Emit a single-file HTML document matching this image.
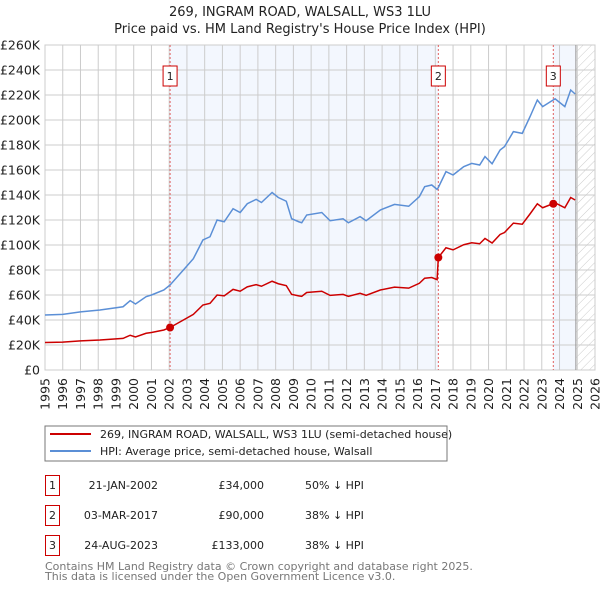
<!DOCTYPE html>
<html><head><meta charset="utf-8"><style>
body{margin:0;background:#fff;font-family:"DejaVu Sans","Liberation Sans",sans-serif;}
svg text{font-family:"DejaVu Sans","Liberation Sans",sans-serif;}
</style></head><body>
<svg id="c" width="600" height="590" xmlns="http://www.w3.org/2000/svg">
<defs><pattern id="hatch" width="6" height="6" patternUnits="userSpaceOnUse" patternTransform="rotate(45)"><line x1="0" y1="0" x2="0" y2="6" stroke="#ccc" stroke-width="1"/></pattern></defs>
<text x="300" y="16" text-anchor="middle" font-size="13" fill="#222">269, INGRAM ROAD, WALSALL, WS3 1LU</text>
<text x="300" y="33" text-anchor="middle" font-size="13" fill="#222">Price paid vs. HM Land Registry's House Price Index (HPI)</text>
<g id="plot"></g>
<rect x="45" y="426" width="402" height="35" fill="#fff" stroke="#777" stroke-width="1"/>
<line x1="50" y1="434" x2="91" y2="434" stroke="#cc0000" stroke-width="2"/>
<text x="100" y="438" font-size="11" fill="#222">269, INGRAM ROAD, WALSALL, WS3 1LU (semi-detached house)</text>
<line x1="50" y1="451" x2="91" y2="451" stroke="#5b8fd6" stroke-width="2"/>
<text x="100" y="455" font-size="11" fill="#222">HPI: Average price, semi-detached house, Walsall</text>
<g font-size="11" fill="#222">
<rect x="45.5" y="475.5" width="14" height="20" fill="none" stroke="#cc0000"/><text x="52.5" y="489" text-anchor="middle">1</text>
<text x="158" y="489" text-anchor="end">21-JAN-2002</text><text x="264" y="489" text-anchor="end">£34,000</text><text x="305" y="489">50% ↓ HPI</text>
<rect x="45.5" y="505.5" width="14" height="20" fill="none" stroke="#cc0000"/><text x="52.5" y="519" text-anchor="middle">2</text>
<text x="158" y="519" text-anchor="end">03-MAR-2017</text><text x="264" y="519" text-anchor="end">£90,000</text><text x="305" y="519">38% ↓ HPI</text>
<rect x="45.5" y="535.5" width="14" height="20" fill="none" stroke="#cc0000"/><text x="52.5" y="549" text-anchor="middle">3</text>
<text x="158" y="549" text-anchor="end">24-AUG-2023</text><text x="264" y="549" text-anchor="end">£133,000</text><text x="305" y="549">38% ↓ HPI</text>
</g>
<text x="45" y="570" font-size="11" fill="#777">Contains HM Land Registry data © Crown copyright and database right 2025.</text>
<text x="45" y="580" font-size="11" fill="#777">This data is licensed under the Open Government Licence v3.0.</text>
</svg>
<script>
const hpiYears=[1995.0,1996.0,1997.0,1998.1,1999.4,1999.8,2000.1,2000.7,2001.0,2001.7,2002.05,2002.8,2003.36,2003.9,2004.3,2004.7,2005.1,2005.6,2006.0,2006.4,2006.9,2007.2,2007.8,2008.15,2008.6,2008.9,2009.3,2009.47,2009.75,2010.6,2011.07,2011.8,2012.1,2012.76,2013.1,2013.9,2014.7,2015.5,2016.1,2016.4,2016.8,2017.1,2017.17,2017.6,2018.0,2018.6,2019.05,2019.5,2019.8,2020.2,2020.65,2020.9,2021.4,2021.9,2022.34,2022.75,2023.05,2023.75,2024.3,2024.63,2024.88];
const hpiValues=[44,44.5,46.5,48,50.6,55.5,52.8,58.7,60,64,68,80,89,104,106.6,120,118.6,129,126,133,136.5,134,142,138,135,121,118.6,117.8,124,126,119.4,121,117.8,122.7,119.4,128,132.5,131,138.7,146.7,148,144.5,146,158.7,156,162.7,165.3,164,170.7,165,176,178.7,190.7,189.3,202.7,216,210.7,217,210.7,224,220.8];
const priceValues=[22,22.3,23.3,24,25.3,27.8,26.4,29.4,30,32,34,40,44.5,52,53.3,60,59.3,64.5,63,66.5,68.3,67,71,69,67.5,60.5,59.3,58.9,62,63,59.7,60.5,58.9,61.4,59.7,64,66.3,65.5,69.4,73.4,74,72.3,90,97.8,96.1,100.2,101.8,101,105.2,101.6,108.4,110,117.5,116.6,124.9,133,129.8,133.7,129.8,138,136];
const saleYears=[2002.05,2017.17,2023.65];
const salePrices=[34,90,133];
const saleLabels=["1","2","3"];
const yTicks=[0,20,40,60,80,100,120,140,160,180,200,220,240,260];
const yTickLabels=["£0","£20K","£40K","£60K","£80K","£100K","£120K","£140K","£160K","£180K","£200K","£220K","£240K","£260K"];
const xTicks=[1995,1996,1997,1998,1999,2000,2001,2002,2003,2004,2005,2006,2007,2008,2009,2010,2011,2012,2013,2014,2015,2016,2017,2018,2019,2020,2021,2022,2023,2024,2025,2026];
const dataEnd=2024.92;

const X0=45,X1=595,Y0=370,Y1=45;
const xs=y=>X0+(y-1995)/(2026-1995)*(X1-X0);
const ys=v=>Y0-v/260*(Y0-Y1);
const g=document.getElementById('plot');
const NS='http://www.w3.org/2000/svg';
function mk(t,a){const e=document.createElementNS(NS,t);for(const k in a)e.setAttribute(k,a[k]);g.appendChild(e);return e;}
let e;
e=mk('rect',{x:xs(saleYears[0]),y:Y1,width:xs(saleYears[1])-xs(saleYears[0]),height:Y0-Y1,fill:'#eef3fd',opacity:0.7});


e=mk('rect',{x:xs(saleYears[2]),y:Y1,width:xs(dataEnd)-xs(saleYears[2]),height:Y0-Y1,fill:'#eef3fd',opacity:0.7});


e=mk('rect',{x:xs(dataEnd),y:Y1,width:X1-xs(dataEnd),height:Y0-Y1,fill:'url(#hatch)'});


yTicks.forEach((v,i)=>{
 e=mk('line',{x1:X0,x2:X1,y1:ys(v),y2:ys(v),stroke:'#ccc','stroke-width':1});
 
 
 e=mk('text',{x:X0-5,y:ys(v)+4.5,'text-anchor':'end','font-size':12.5,fill:'#222'});
 e.textContent=yTickLabels[i];
 
 
});
xTicks.forEach(y=>{
 e=mk('line',{x1:xs(y),x2:xs(y),y1:Y1,y2:Y0,stroke:'#ccc','stroke-width':1});
 
 
 e=mk('text',{x:0,y:0,'text-anchor':'end','font-size':12.5,fill:'#222',transform:`translate(${xs(y)+4.5},${Y0+8}) rotate(-90)`});
 e.textContent=y;
 
 
});
e=mk('rect',{x:X0,y:Y1,width:X1-X0,height:Y0-Y1,fill:'none',stroke:'#ccc'});


e=mk('line',{x1:xs(dataEnd),x2:xs(dataEnd),y1:Y1,y2:Y0,stroke:'#999','stroke-width':1});


saleYears.forEach((y,i)=>{
 e=mk('line',{x1:xs(y),x2:xs(y),y1:Y1,y2:Y0,stroke:'#e06060','stroke-width':1,'stroke-dasharray':'2,2'});
 
 
 e=mk('rect',{x:xs(y)-7,y:66,width:14,height:20,fill:'#fff',stroke:'#cc0000'});
 
 
 e=mk('text',{x:xs(y),y:80,'text-anchor':'middle','font-size':11,fill:'#222'});
 e.textContent=saleLabels[i];
 
 
});
e=mk('polyline',{points:hpiYears.map((y,i)=>xs(y)+','+ys(hpiValues[i])).join(' '),fill:'none',stroke:'#5b8fd6','stroke-width':1.5});


e=mk('polyline',{points:hpiYears.map((y,i)=>xs(y)+','+ys(priceValues[i])).join(' '),fill:'none',stroke:'#cc0000','stroke-width':1.5});


saleYears.forEach((y,i)=>{
 e=mk('circle',{cx:xs(y),cy:ys(salePrices[i]),r:4,fill:'#cc0000'});
 
 
});
</script>
</body></html>
